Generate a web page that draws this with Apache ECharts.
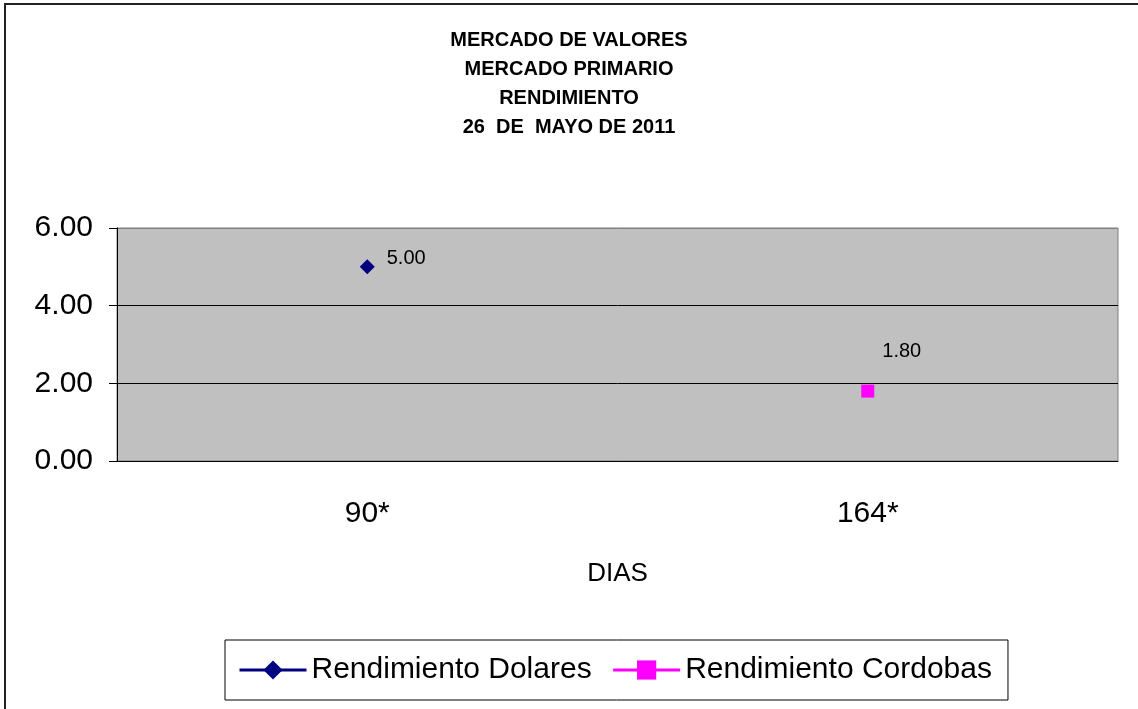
<!DOCTYPE html>
<html>
<head>
<meta charset="utf-8">
<title>Mercado de Valores</title>
<script src="https://cdn.jsdelivr.net/npm/echarts@6/dist/echarts.min.js"></script>
<style>
  html, body { margin: 0; padding: 0; background: #fff; overflow: hidden; }
  #chart { width: 1138px; height: 709px; }
  #frame { position: absolute; left: 4px; top: 3px; width: 1200px; height: 800px;
           border-left: 2px solid #222; border-top: 2px solid #222; pointer-events: none; }
</style>
</head>
<body>
<div id="chart"></div>
<div id="frame"></div>
<script>
// data
var categories = ['90*', '164*'];
var dolares = [5.00, null];
var cordobas = [null, 1.80];
var titleLines = ['MERCADO DE VALORES', 'MERCADO PRIMARIO', 'RENDIMIENTO', '26  DE  MAYO DE 2011'];

var myChart = echarts.init(document.getElementById('chart'));

var font = 'Liberation Sans, Arial, sans-serif';

var option = {
  backgroundColor: '#fff',
  title: {
    text: titleLines.join('\n'),
    left: 'center',
    top: 21,
    textStyle: {
      fontFamily: font,
      fontSize: 20,
      fontWeight: 'bold',
      color: '#000',
      lineHeight: 29
    }
  },
  grid: {
    left: 117,
    right: 20,
    top: 228,
    bottom: 248,
    show: true,
    backgroundColor: '#c0c0c0',
    borderColor: '#808080',
    borderWidth: 1
  },
  legend: {
    bottom: 9,
    left: 225,
    padding: [15, 16, 15, 13],
    borderColor: '#000',
    borderWidth: 1,
    backgroundColor: '#fff',
    itemWidth: 67,
    itemHeight: 24,
    itemGap: 20,
    lineStyle: { width: 3 },
    textStyle: {
      fontFamily: font,
      fontSize: 30,
      color: '#000'
    },
    data: ['Rendimiento Dolares', 'Rendimiento Cordobas']
  },
  xAxis: {
    type: 'category',
    data: categories,
    boundaryGap: true,
    name: 'DIAS',
    nameLocation: 'middle',
    nameGap: 100,
    nameTextStyle: {
      fontFamily: font,
      fontSize: 26,
      color: '#000'
    },
    axisLine: { lineStyle: { color: '#000', width: 1 } },
    axisTick: { length: 8, lineStyle: { color: '#000' } },
    axisLabel: {
      margin: 38,
      fontFamily: font,
      fontSize: 30,
      color: '#000'
    }
  },
  yAxis: {
    type: 'value',
    min: 0,
    max: 6,
    interval: 2,
    axisLine: { show: true, lineStyle: { color: '#000', width: 1 } },
    axisTick: { show: true, length: 8, lineStyle: { color: '#000' } },
    axisLabel: {
      margin: 24,
      fontFamily: font,
      fontSize: 30,
      color: '#000',
      formatter: function (v) { return v.toFixed(2); }
    },
    splitLine: {
      lineStyle: { color: ['#000', '#000', '#000', '#808080'], width: 1 }
    }
  },
  series: [
    {
      name: 'Rendimiento Dolares',
      type: 'line',
      data: dolares,
      symbol: 'diamond',
      symbolSize: 15,
      connectNulls: false,
      itemStyle: { color: '#000080' },
      lineStyle: { color: '#000080', width: 3 },
      label: {
        show: true,
        position: 'right',
        distance: 12,
        offset: [0, -8],
        fontFamily: font,
        fontSize: 20,
        color: '#000',
        formatter: function (p) { return p.value.toFixed(2); }
      }
    },
    {
      name: 'Rendimiento Cordobas',
      type: 'line',
      data: cordobas,
      symbol: 'rect',
      symbolSize: 13,
      connectNulls: false,
      itemStyle: { color: '#ff00ff' },
      lineStyle: { color: '#ff00ff', width: 3 },
      label: {
        show: true,
        position: 'top',
        offset: [34, -18],
        fontFamily: font,
        fontSize: 20,
        color: '#000',
        formatter: function (p) { return p.value.toFixed(2); }
      }
    }
  ]
};

myChart.setOption(option);
</script>
</body>
</html>
